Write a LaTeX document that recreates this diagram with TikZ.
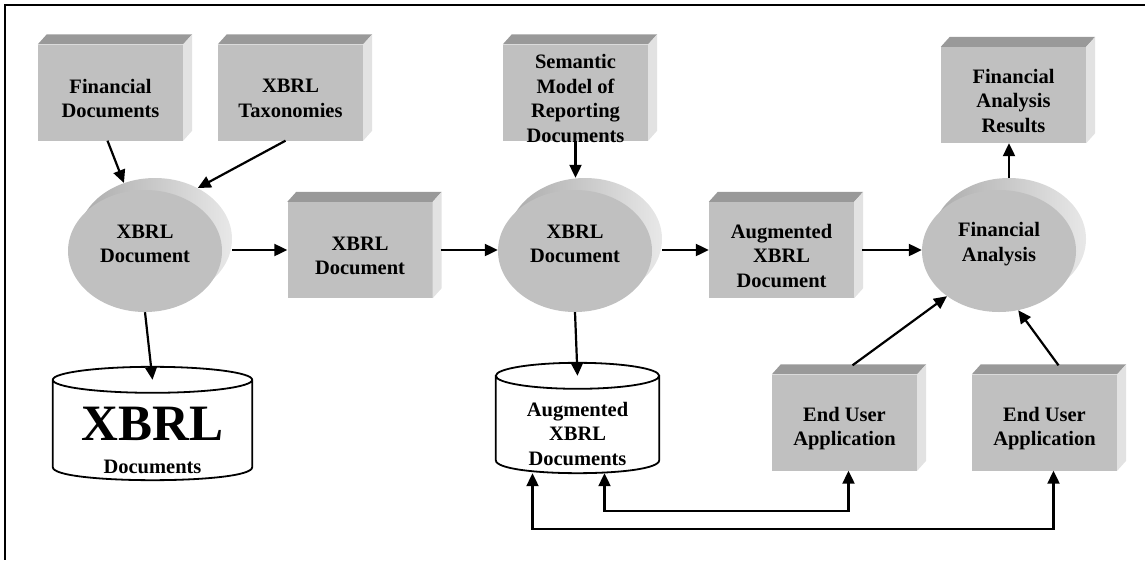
\documentclass[tikz,border=0pt]{standalone}
\usepackage{fontspec}
\setmainfont{Liberation Serif}
\usetikzlibrary{shapes.geometric,arrows.meta,calc}

\definecolor{boxfront}{HTML}{C0C0C0}
\definecolor{boxtop}{HTML}{999999}
\definecolor{boxside}{HTML}{E2E2E2}

\tikzset{
  txt/.style={align=center, font=\bfseries\fontsize{20.5pt}{24.5pt}\selectfont},
  box/.style={fill=boxfront, minimum width=145pt, minimum height=96pt,
    label={[txt,yshift=-6pt]center:#1}},
  ell/.style={ellipse, fill=boxfront, minimum width=154pt, minimum height=122pt,
    label={[txt,yshift=7pt]center:#1}},
  ellback/.style={ellipse, minimum width=154pt, minimum height=122pt,
    left color=black!33, right color=black!9},
  dbbox/.style={minimum width=#1, inner sep=0pt},
  dbline/.style={line width=1.8pt},
  arr/.style={-{Triangle[length=13pt,width=12pt]}, line width=2.2pt},
  both/.style={{Triangle[length=13pt,width=12pt]}-{Triangle[length=13pt,width=12pt]}}
}

\begin{document}
\begin{tikzpicture}[x=1pt,y=-1pt]
  \useasboundingbox (0,0) rectangle (1145,560);
  \draw[line width=2.5pt] (1145,5) -- (5,5) -- (5,560);

  % boxes
  \node[box=Financial\\Documents] (fin) at (110.5,92.5) {};
  \node[box=XBRL\\Taxonomies] (tax) at (290.5,92.5) {};
  \node[box=Semantic\\Model of\\Reporting\\Documents] (sem) at (575.5,92.5) {};
  \node[box=Financial\\Analysis\\Results] (res) at (1013.5,95) {};
  \node[box=XBRL\\Document] (xdoc) at (360,250) {};
  \node[box=Augmented\\XBRL\\Document] (aug) at (781.5,250) {};
  \node[box=End User\\Application] (eua1) at (844.5,422.5) {};
  \node[box=End User\\Application] (eua2) at (1044.5,422.5) {};

  \foreach \n in {fin,tax,sem,res,xdoc,aug,eua1,eua2}{
    \fill[boxtop] (\n.north west) -- ++(9,-10) -- ($(\n.north east)+(9,-10)$) -- (\n.north east) -- cycle;
    \fill[boxside] (\n.north east) -- ++(9,-10) -- ($(\n.south east)+(9,-10)$) -- (\n.south east) -- cycle;
  }

  % processes
  \node[ellback] (e1s) at (155,239) {};
  \node[ell=XBRL\\Document] (e1) at (145,251) {};
  \node[ellback] (e2s) at (585,239) {};
  \node[ell=XBRL\\Document] (e2) at (575,251) {};
  \node[ellback] (e3s) at (1009,239) {};
  \node[ell=Financial\\Analysis] (e3) at (999,251) {};

  % stores
  \node[dbbox=199pt, minimum height=113pt,
    label={[txt,anchor=base,yshift=7pt]south:Documents}] (db1) at (152.5,423.5)
    {\bfseries\fontsize{51pt}{51pt}\selectfont XBRL};
  \node[dbbox=163pt, minimum height=110pt,
    label={[txt,yshift=-16pt]center:Augmented\\XBRL\\Documents}] (db2) at (577.5,418) {};
  \foreach \db in {db1,db2}{
    \draw[dbline] let \p1=(\db.north west), \p2=(\db.south east) in
      ({(\x1+\x2)/2},{\y1-13pt}) ellipse [x radius={(\x2-\x1)/2}, y radius=13pt]
      (\x1,{\y1-13pt}) -- (\x1,{\y2+13pt})
      .. controls (\x1,{\y2-4.3pt}) and (\x2,{\y2-4.3pt}) .. (\x2,{\y2+13pt})
      -- (\x2,{\y1-13pt});
    \coordinate (\db-cap) at ([yshift=-13pt]\db.north);
  }

  % flows
  \draw[arr] ([xshift=-3pt]fin.south) -- (e1s.119);
  \draw[arr] ([xshift=-5pt]tax.south) -- (e1s.50);
  \draw[arr] (e1s.east |- xdoc.west) -- (xdoc.west);
  \draw[arr] ([xshift=8pt]xdoc.east) -- (xdoc.east -| e2.west);
  \draw[arr] (sem.south) -- (sem.south |- e2s.north);
  \draw[arr] (e2s.east |- aug.west) -- (aug.west);
  \draw[arr] ([xshift=8pt]aug.east) -- (aug.east -| e3.west);
  \draw[arr] (e3s.north) -- (e3s.north |- res.south);
  \draw[arr] (e1.south) -- (db1-cap);
  \draw[arr] (e2.south) -- (db2-cap);
  \draw[arr] ([xshift=8pt,yshift=9pt]eua1.north) -- (e3.221);
  \draw[arr] ([xshift=14pt,yshift=9pt]eua2.north) -- (e3.288);
  \draw[arr,both] ([xshift=4pt]eua1.south) -- ++(0,40) -| ([xshift=27pt]db2.south);
  \draw[arr,both] ([xshift=-45pt]db2.south) -- ++(0,56) -| ([xshift=9pt]eua2.south);
\end{tikzpicture}
\end{document}
